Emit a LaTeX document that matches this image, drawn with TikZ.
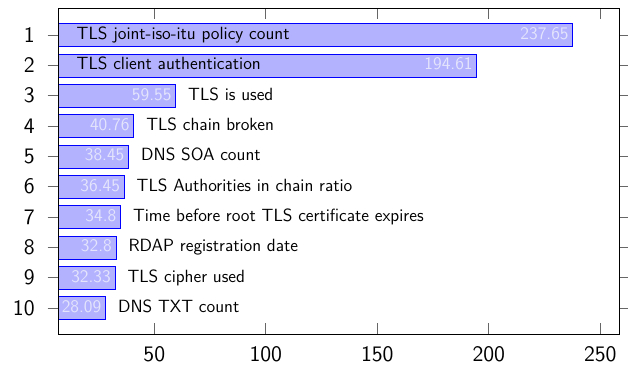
\documentclass[tikz,border=0pt]{standalone}
\usepackage{tikz}
\usetikzlibrary{positioning}
\definecolor{vallight}{RGB}{228,228,252}

\begin{document}
\begin{tikzpicture}[
    x=0.65pt, y=-0.65pt,  % one unit = one pixel of the target
    font=\sffamily\fontsize{11.5}{13}\selectfont,
    node distance=5pt,
    ]
% -------------------------------------------------
\tikzset{
  bar/.style={draw=blue, fill=blue!30},
  val/.style={anchor=east, text=vallight, inner sep=2.5pt, text height=0.8em, text depth=0.2em},
  lbl/.style={inner sep=3pt, text height=0.8em, text depth=0.2em},
  tickmark/.style={draw=black!60},
  ticklbl/.style={font=\sffamily\Large, inner sep=2pt},
  frame/.style={draw, semithick}
}
% -------------------------------------------------
\useasboundingbox (0,0) rectangle (628,365);

\coordinate (nw) at (58.3,8.3);
\coordinate (se) at (619.3,334.3);

% x axis ticks
\foreach \v in {50,100,...,250} {
  \pgfmathsetmacro{\px}{42.8+2.23*\v}
  \draw[tickmark] (\px,8.3) -- ++(0,11);
  \draw[tickmark] (\px,334.3) -- ++(0,-11);
  \node[ticklbl, anchor=north] (x\v) at (\px,343.6) {\v};
}

% bars with the label outside
\foreach \i/\v/\txt in {3/59.55/TLS is used,
                        4/40.76/TLS chain broken,
                        5/38.45/DNS SOA count,
                        6/36.45/TLS Authorities in chain ratio,
                        7/34.8/Time before root TLS certificate expires,
                        8/32.8/RDAP registration date,
                        9/32.33/TLS cipher used,
                        10/28.09/DNS TXT count} {
  \pgfmathsetmacro{\py}{35+30.33*(\i-1)}
  \pgfmathsetmacro{\px}{42.8+2.23*\v}
  \draw[tickmark] (47.7,\py) -- (58.3,\py);
  \draw[tickmark] (619.3,\py) -- (628,\py);
  \node[ticklbl, anchor=east] (y\i) at (38,\py) {\i};
  \draw[bar] (58.3,\py-11.5) rectangle (\px,\py+11.5);
  \coordinate (e\i) at (\px,\py);
  \node[val] (v\i) at (e\i) {\v};
  \node[lbl, right=of e\i] (t\i) {\txt};
}

% bars with the label inside
\foreach \i/\v/\txt in {1/237.65/TLS joint-iso-itu policy count,
                        2/194.61/TLS client authentication} {
  \pgfmathsetmacro{\py}{35+30.33*(\i-1)}
  \pgfmathsetmacro{\px}{42.8+2.23*\v}
  \draw[tickmark] (47.7,\py) -- (58.3,\py);
  \draw[tickmark] (619.3,\py) -- (628,\py);
  \node[ticklbl, anchor=east] (y\i) at (38,\py) {\i};
  \draw[bar] (58.3,\py-11.5) rectangle (\px,\py+11.5);
  \coordinate (e\i) at (\px,\py);
  \node[val] (v\i) at (e\i) {\v};
  \node[lbl, anchor=west] (t\i) at (71.8,\py) {\txt};
}

\draw[frame] (nw) rectangle (se);

\end{tikzpicture}
\end{document}
